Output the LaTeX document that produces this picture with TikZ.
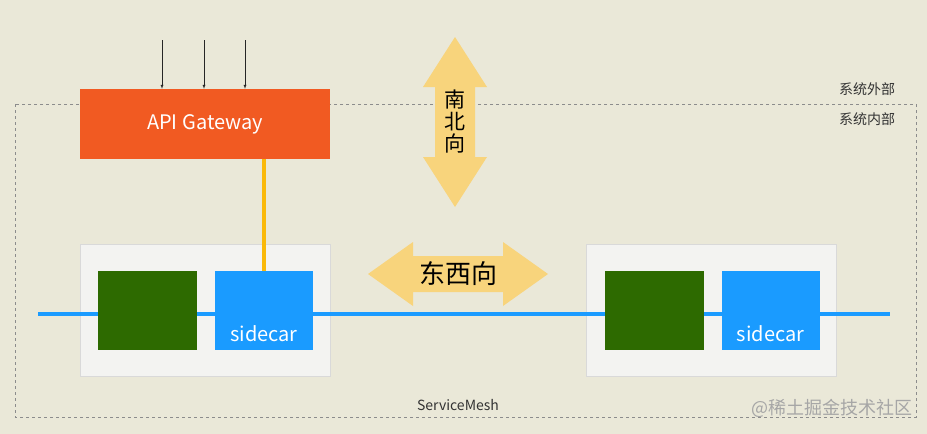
\documentclass[tikz,border=0pt]{standalone}
\usepackage{fontspec}
\setmainfont{Noto Sans CJK SC}
\usetikzlibrary{positioning}
\definecolor{bgcol}{HTML}{EAE8D8}
\definecolor{gatecol}{HTML}{F15A22}
\definecolor{podcol}{HTML}{F3F3F1}
\definecolor{appcol}{HTML}{2D6A00}
\definecolor{carcol}{HTML}{1A9BFF}
\definecolor{dircol}{HTML}{F8D47C}
\tikzset{
  podbox/.style={draw=black!15, fill=podcol, minimum width=250pt, minimum height=132pt, inner sep=0pt},
  appbox/.style={fill=appcol, minimum width=99pt, minimum height=79pt, inner sep=0pt},
  carbox/.style={fill=carcol, minimum width=98pt, minimum height=79pt, inner sep=0pt},
  lbl/.style={font=\fontsize{14}{16}\selectfont, text=black!80}
}
\begin{document}
\begin{tikzpicture}[x=1pt,y=1pt,yscale=-1]
\fill[bgcol] (0,0) rectangle (927,434);
\useasboundingbox (0,0) rectangle (927,434);

%system boundary
\draw[dashed, draw=black!45] (15,104) rectangle (916,417);

%direction arrows
\fill[dircol] (455,37) -- (487,87) -- (475,87) -- (475,157) -- (487,157) -- (455,207)
  -- (423,157) -- (435,157) -- (435,87) -- (423,87) -- cycle;
\fill[dircol] (368,274) -- (413,242) -- (413,256) -- (503,256) -- (503,242) -- (548,274)
  -- (503,306) -- (503,292) -- (413,292) -- (413,306) -- cycle;
\node[font=\fontsize{21}{24}\selectfont, align=center] (ns) at (455,122) {南\\[-2pt]北\\[-2pt]向};
\node[font=\fontsize{26}{30}\selectfont] (ew) at (458,274) {东西向};

%pods
\node[podbox] (podL) at (205,310) {};
\node[podbox] (podR) at (711,310) {};
\coordinate (meshW) at (38,314);
\coordinate (meshE) at (890,314);
\draw[carcol, line width=4.5pt] (meshW) -- (meshE);
\node[appbox] (appL) at (147.5,310.5) {};
\node[carbox] (carL) at (264,310.5) {};
\node[appbox] (appR) at (654.5,310.5) {};
\node[carbox] (carR) at (770.5,310.5) {};
\node[text=white, font=\fontsize{20}{22}\selectfont, anchor=south] at ([yshift=-5pt]carL.south) {sidecar};
\node[text=white, font=\fontsize{20}{22}\selectfont, anchor=south] at ([yshift=-5pt]carR.south) {sidecar};

%gateway
\node[fill=gatecol, minimum width=250pt, minimum height=70pt, text=white,
  font=\fontsize{20}{22}\selectfont] (gate) at (205,124) {API Gateway};
\draw[draw={rgb,255:red,250;green,185;blue,10}, line width=4pt] (gate.south -| carL.north) -- (carL.north);
\foreach \x/\n in {162/a,204/b,245/c}{
  \coordinate (in\n) at (\x,40);
  \draw[-latex, black!85] (in\n) -- (in\n |- gate.north);
}

%labels
\node[lbl] (outer) at (867,89) {系统外部};
\node[lbl] (inner) at (867,119) {系统内部};
\node[lbl] (mesh) at (458,405) {ServiceMesh};
\node[font=\fontsize{18}{20}\selectfont, text=black!35, anchor=east] (mark) at (916,408) {@稀土掘金技术社区};
\end{tikzpicture}
\end{document}
